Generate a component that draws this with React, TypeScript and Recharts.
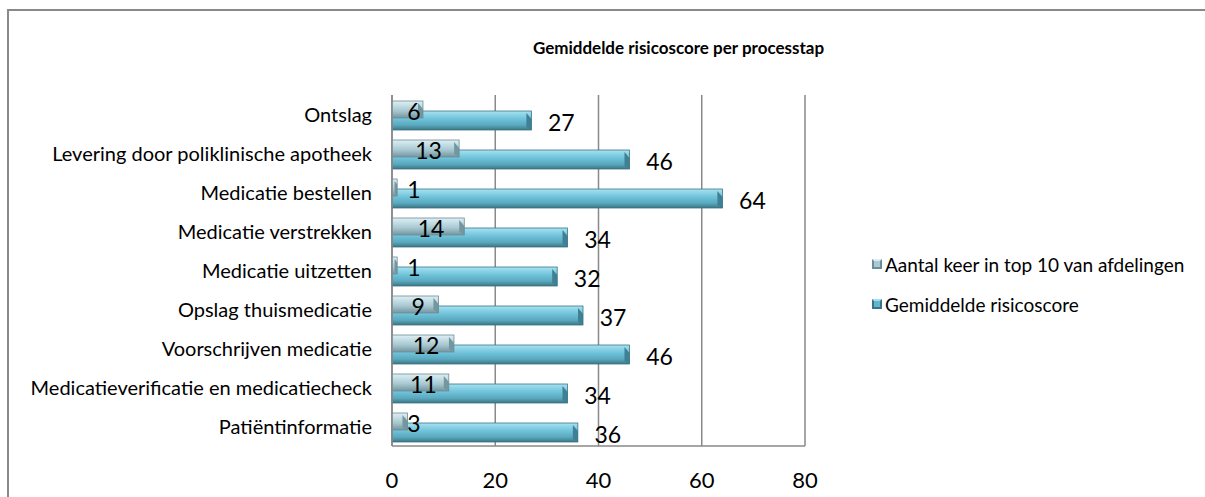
import { BarChart, Bar, XAxis, YAxis, CartesianGrid, LabelList } from "recharts";

const categories = [
  "Ontslag",
  "Levering door poliklinische apotheek",
  "Medicatie bestellen",
  "Medicatie verstrekken",
  "Medicatie uitzetten",
  "Opslag thuismedicatie",
  "Voorschrijven medicatie",
  "Medicatieverificatie en medicatiecheck",
  "Patiëntinformatie",
];
const top10Count = [6, 13, 1, 14, 1, 9, 12, 11, 3];
const avgRisk = [27, 46, 64, 34, 32, 37, 46, 34, 36];
const xTicks = [0, 20, 40, 60, 80];

const seriesNames = {
  top10: "Aantal keer in top 10 van afdelingen",
  risk: "Gemiddelde risicoscore",
};

const FONT = "Lato, 'Open Sans', sans-serif";
const GRID = "#898989";

const data = categories.map((name, i) => ({
  name,
  top10: top10Count[i],
  risk: avgRisk[i],
}));

function TealBar(props: any) {
  const { x, y, width, height } = props;
  if (!width || width <= 0) return null;
  const b = Math.min(5, width / 2);
  return (
    <g>
      <rect x={x} y={y} width={width} height={height} fill="url(#gTeal)" />
      {/* bevelled right end */}
      <polygon
        points={`${x + width - b},${y + 2} ${x + width},${y + 3 + b} ${x + width},${y + height} ${x + width - b},${y + height - 3}`}
        fill="#3f8094"
      />
      <rect x={x} y={y} width={width} height={height} fill="none" stroke="#3a7485" strokeWidth={0.8} />
    </g>
  );
}

function GreyBar(props: any) {
  const { x, y, width, height } = props;
  if (!width || width <= 0) return null;
  const b = Math.min(5, width / 2);
  return (
    <g>
      <rect x={x} y={y} width={width} height={height} fill="url(#gGrey)" />
      <polygon
        points={`${x + width - b},${y + 2} ${x + width},${y + 3 + b} ${x + width},${y + height} ${x + width - b},${y + height - 3}`}
        fill="#74969f"
      />
      <rect x={x} y={y} width={width} height={height} fill="none" stroke="#6a8d97" strokeWidth={0.8} />
    </g>
  );
}

function RiskLabel(props: any) {
  const { x, y, width, height, value } = props;
  return (
    <text
      x={x + width + 30}
      y={y + height / 2 + 1}
      textAnchor="middle"
      dominantBaseline="central"
      fontSize={23}
      fontFamily={FONT}
      fill="#000"
    >
      {value}
    </text>
  );
}

function Top10Label(props: any) {
  const { x, y, width, height, value } = props;
  const cx = Math.max(x + width / 2 + 3, x + 22);
  return (
    <text
      x={cx}
      y={y + height / 2 + 1}
      textAnchor="middle"
      dominantBaseline="central"
      fontSize={23}
      fontFamily={FONT}
      fill="#000"
    >
      {value}
    </text>
  );
}

function Swatch({ kind }: { kind: "grey" | "teal" }) {
  const top = kind === "grey" ? "#dcedf1" : "#a3def0";
  const mid = kind === "grey" ? "#abc9d1" : "#5fb6cf";
  const dark = kind === "grey" ? "#6a8d97" : "#3a7485";
  return (
    <svg width={10} height={10} style={{ display: "block" }}>
      <rect x={0} y={0} width={10} height={10} fill={dark} />
      <polygon points="0,0 10,0 8,2 2,2" fill={top} />
      <rect x={2} y={2} width={6} height={6} fill={mid} />
    </svg>
  );
}

function LegendBox() {
  const rows: { kind: "grey" | "teal"; label: string }[] = [
    { kind: "grey", label: seriesNames.top10 },
    { kind: "teal", label: seriesNames.risk },
  ];
  return (
    <div style={{ fontFamily: FONT, fontSize: 19, color: "#000" }}>
      {rows.map((r) => (
        <div key={r.label} style={{ display: "flex", alignItems: "center", height: 40 }}>
          <Swatch kind={r.kind} />
          <span style={{ marginLeft: 3 }}>{r.label}</span>
        </div>
      ))}
    </div>
  );
}

export default function App() {
  return (
    <div
      style={{
        position: "absolute",
        left: 0,
        top: 0,
        width: 1205,
        height: 497,
        overflow: "hidden",
        background: "#fff",
      }}
    >
      <div
        style={{
          position: "absolute",
          left: 7,
          top: 9,
          width: 1400,
          height: 700,
          border: `2px solid ${GRID}`,
        }}
      />
      <div
        style={{
          position: "absolute",
          left: 0,
          top: 37,
          width: 1357,
          textAlign: "center",
          fontFamily: FONT,
          fontWeight: 700,
          fontSize: 17,
          color: "#000",
        }}
      >
        Gemiddelde risicoscore per processtap
      </div>
      <div style={{ position: "absolute", left: 872, top: 244 }}>
        <LegendBox />
      </div>
      <div style={{ position: "absolute", left: 0, top: 0 }}>
        <BarChart
          width={1205}
          height={497}
          data={data}
          layout="vertical"
          margin={{ top: 95, right: 400, bottom: 11, left: 12 }}
          barGap={-29}
        >
          <defs>
            <linearGradient id="gTeal" x1="0" y1="0" x2="0" y2="1">
              <stop offset="0" stopColor="#a6e3f2" />
              <stop offset="0.18" stopColor="#8fd4e8" />
              <stop offset="0.45" stopColor="#6cc0d7" />
              <stop offset="0.75" stopColor="#5aa8bd" />
              <stop offset="1" stopColor="#3b7585" />
            </linearGradient>
            <linearGradient id="gGrey" x1="0" y1="0" x2="0" y2="1">
              <stop offset="0" stopColor="#e0eff3" />
              <stop offset="0.25" stopColor="#c6dfe6" />
              <stop offset="0.6" stopColor="#a6c6cf" />
              <stop offset="1" stopColor="#73959f" />
            </linearGradient>
          </defs>
          <CartesianGrid horizontal={false} stroke={GRID} strokeWidth={1.5} />
          <XAxis
            type="number"
            domain={[0, 80]}
            ticks={xTicks}
            height={40}
            axisLine={{ stroke: GRID, strokeWidth: 1.5 }}
            tickLine={false}
            tickMargin={20}
            tick={{ fontSize: 22, fontFamily: FONT, fill: "#000" }}
          />
          <YAxis
            type="category"
            dataKey="name"
            width={380}
            axisLine={{ stroke: GRID, strokeWidth: 1.5 }}
            tickLine={false}
            tickMargin={14}
            interval={0}
            tick={{ fontSize: 20, fontFamily: FONT, fill: "#000" }}
          />
          <Bar
            dataKey="risk"
            name={seriesNames.risk}
            barSize={19}
            shape={<TealBar />}
            isAnimationActive={false}
          >
            <LabelList dataKey="risk" content={<RiskLabel />} />
          </Bar>
          <Bar
            dataKey="top10"
            name={seriesNames.top10}
            barSize={17}
            shape={<GreyBar />}
            isAnimationActive={false}
          >
            <LabelList dataKey="top10" content={<Top10Label />} />
          </Bar>
        </BarChart>
      </div>
    </div>
  );
}
